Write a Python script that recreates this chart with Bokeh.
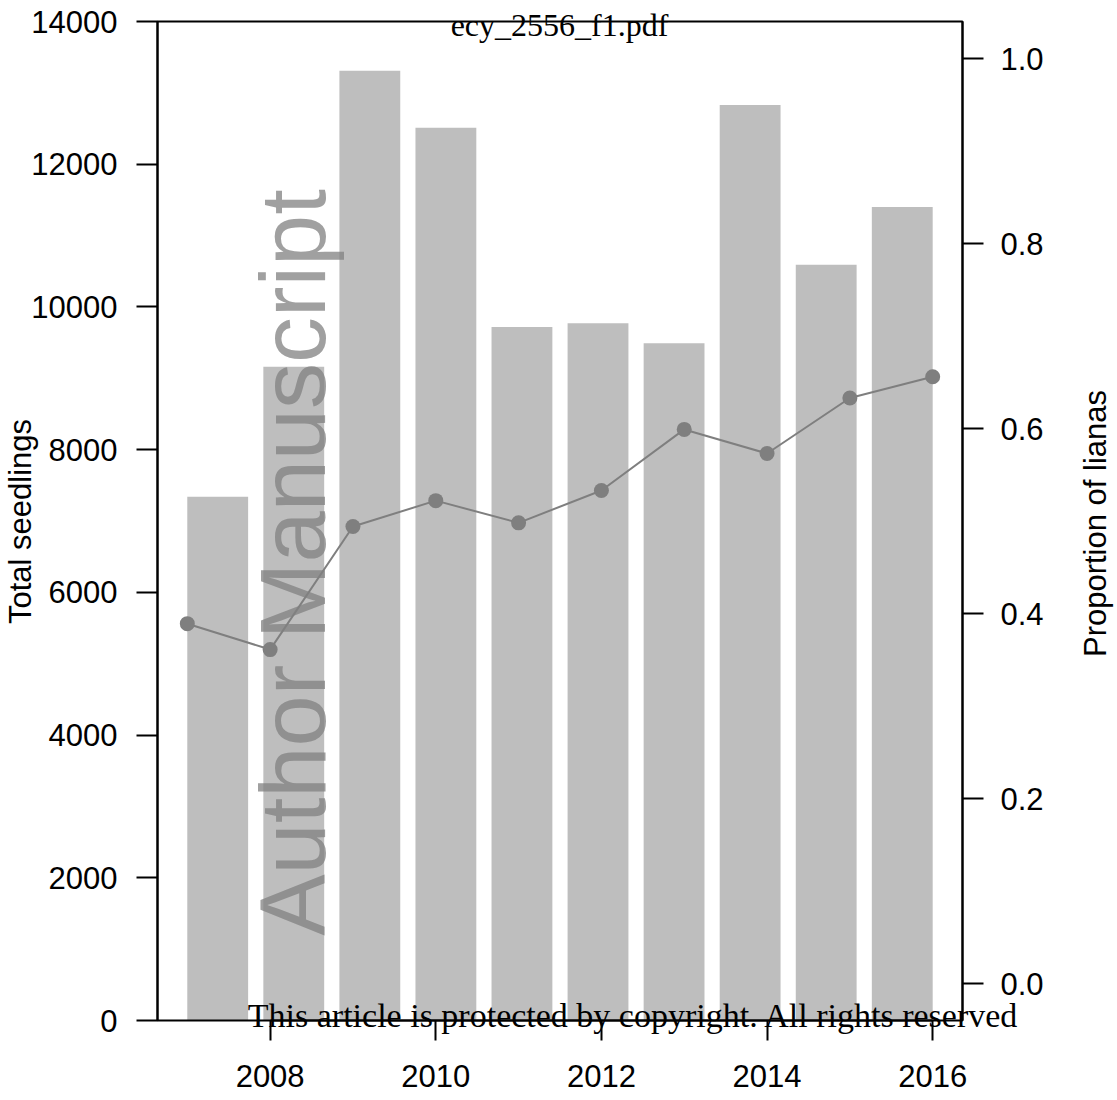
import numpy as np
from bokeh.plotting import figure
from bokeh.models import (Range1d, LinearAxis, FixedTicker, NumeralTickFormatter, Label,
                          BoxAnnotation)
from bokeh.embed import file_html
from bokeh.resources import INLINE

# ---- data ----
years = [2007, 2008, 2009, 2010, 2011, 2012, 2013, 2014, 2015, 2016]
total_seedlings = [7340, 9160, 13310, 12510, 9720, 9770, 9490, 12830, 10590, 11400]
prop_lianas = [0.389, 0.361, 0.494, 0.522, 0.498, 0.533, 0.599, 0.573, 0.633, 0.656]
left_ticks = [0, 2000, 4000, 6000, 8000, 10000, 12000, 14000]
right_ticks = [0.0, 0.2, 0.4, 0.6, 0.8, 1.0]
bottom_ticks = [2008, 2010, 2012, 2014, 2016]
bar_index = list(range(len(years)))

# ---- geometry ----
CW, CH = 1117, 1100                   # canvas
FL, FR, FT, FB = 157, 962, 21, 1020   # visible plot box in canvas pixels
XR = (2006.64, 2016.36)               # years across the box
YR = (0, 14000)                       # total seedlings across the box
PR = (-0.04, 1.04)                    # proportion across the box
BR = (-0.7915, 9.792)                 # bar slots across the box
SHIFT = 0.42                          # label anchor correction (fraction of font size)


def widen_x(r):
    k = (r[1] - r[0]) / (FR - FL)
    return Range1d(r[0] - FL * k, r[1] + (CW - FR) * k)


def widen_y(r):
    k = (r[1] - r[0]) / (FB - FT)
    return Range1d(r[0] - (CH - FB) * k, r[1] + FT * k)


def xdata(px):
    return XR[0] + (px - FL) * (XR[1] - XR[0]) / (FR - FL)


def ydata(py):
    return YR[0] + (FB - py) * (YR[1] - YR[0]) / (FB - FT)


p = figure(width=CW, height=CH, x_range=widen_x(XR), y_range=widen_y(YR),
           x_axis_type=None, y_axis_type=None,
           output_backend="svg", toolbar_location=None,
           min_border=0, min_border_left=0, min_border_right=0,
           min_border_top=0, min_border_bottom=0)
p.extra_x_ranges = {"bars": widen_x(BR)}
p.extra_y_ranges = {"prop": widen_y(PR)}
p.outline_line_color = None
p.background_fill_color = "white"
p.border_fill_color = "white"

# bars
p.vbar(x=bar_index, top=total_seedlings, bottom=0, width=0.8, x_range_name="bars",
       fill_color="#bebebe", line_color=None)

# line + points
p.line(years, prop_lianas, y_range_name="prop", line_color="#7f7f7f", line_width=2)
p.scatter(years, prop_lianas, y_range_name="prop", size=15,
          fill_color="#7f7f7f", line_color=None)

# plot box
p.add_layout(BoxAnnotation(left=XR[0], right=XR[1], bottom=YR[0], top=YR[1],
                           fill_color=None, fill_alpha=0, line_color="black",
                           line_alpha=1.0, line_width=2))

FONT = "Liberation Sans"


def style_axis(ax, tick_out, standoff):
    ax.axis_line_color = "black"
    ax.axis_line_width = 2
    ax.major_tick_line_color = "black"
    ax.major_tick_line_width = 2
    ax.major_tick_out = tick_out
    ax.major_tick_in = 0
    ax.minor_tick_line_color = None
    ax.major_label_text_font = FONT
    ax.major_label_text_font_size = "31px"
    ax.major_label_text_color = "black"
    ax.major_label_standoff = standoff


left = LinearAxis(ticker=FixedTicker(ticks=left_ticks), formatter=NumeralTickFormatter(format="0"),
                  fixed_location=XR[0], bounds=YR)
style_axis(left, 21, 19)
p.add_layout(left, "left")

right = LinearAxis(y_range_name="prop", ticker=FixedTicker(ticks=right_ticks),
                   formatter=NumeralTickFormatter(format="0.0"),
                   fixed_location=XR[1], bounds=PR)
style_axis(right, 21, 17)
p.add_layout(right, "right")

bottom = LinearAxis(ticker=FixedTicker(ticks=bottom_ticks), formatter=NumeralTickFormatter(format="0"),
                    fixed_location=YR[0], bounds=(bottom_ticks[0], bottom_ticks[-1]))
style_axis(bottom, 20, 24)
p.add_layout(bottom, "below")


def vlabel(text, bx, cy, size, color="black", alpha=1.0, font=FONT):
    # vertical text reading bottom-to-top; bx = baseline x, cy = centre y (canvas px)
    p.add_layout(Label(x=xdata(bx - SHIFT * size), y=ydata(cy), text=text, angle=np.pi / 2,
                       text_align="center", text_baseline="alphabetic",
                       text_font=font, text_font_size=f"{size}px",
                       text_color=color, text_alpha=alpha))


def hlabel(text, cx, by, size, font="Liberation Serif"):
    # horizontal text; cx = centre x, by = baseline y (canvas px)
    p.add_layout(Label(x=xdata(cx), y=ydata(by - SHIFT * size), text=text,
                       text_align="center", text_baseline="alphabetic",
                       text_font=font, text_font_size=f"{size}px", text_color="black"))


# axis titles
vlabel("Total seedlings", 32.7, 521, 31)
vlabel("Proportion of lianas", 1108, 523, 31)

# watermark and stamps
vlabel("Author Manuscript", 331, 562, 92, color="#808080", alpha=0.75)
hlabel("ecy_2556_f1.pdf", 559, 38, 32)
hlabel("This article is protected by copyright. All rights reserved", 633, 1029, 34)

open("out.html", "w").write(file_html(p, INLINE))
